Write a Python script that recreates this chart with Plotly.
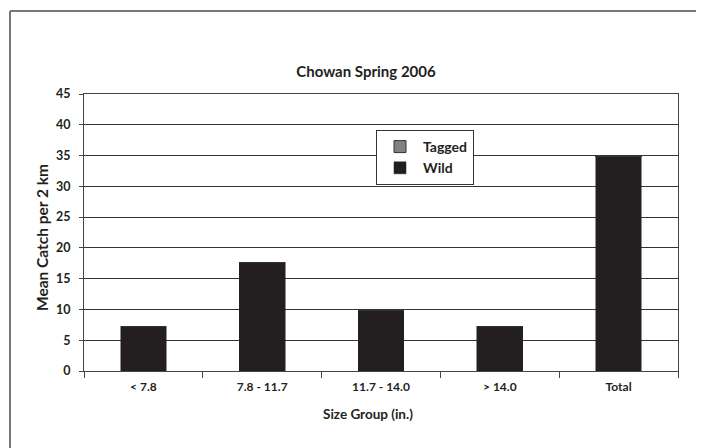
import plotly.graph_objects as go

categories = ["< 7.8", "7.8 - 11.7", "11.7 - 14.0", "> 14.0", "Total"]
wild = [7.3, 17.7, 9.8, 7.3, 34.8]
tagged = [0, 0, 0.15, 0, 0.15]
y_ticks = [0, 5, 10, 15, 20, 25, 30, 35, 40, 45]

OFF = 8  # page body margin
W, H = 704 - OFF, 448 - OFF
L, R, T = 84 - OFF, 26, 94 - OFF
pw, ph = 678 - 84, 371 - 94
B = H - T - ph

FONT = "Lato"

fig = go.Figure()
fig.add_trace(go.Bar(name="Wild", x=categories, y=wild,
                     marker=dict(color="#231f20", line=dict(color="#231f20", width=0.5))))
fig.add_trace(go.Bar(name="Tagged", x=categories, y=tagged,
                     marker=dict(color="#808285", line=dict(color="#333333", width=1))))

fig.update_layout(
    width=W, height=H,
    margin=dict(l=L, r=R, t=T, b=B),
    paper_bgcolor="white", plot_bgcolor="white",
    barmode="stack", bargap=0.615,
    font=dict(family=FONT, color="#231f20", size=12),
    showlegend=True,
    legend=dict(x=(376 - 84) / pw, y=1 - (130 - 94) / ph, xanchor="left", yanchor="top",
                bgcolor="white", bordercolor="#333333", borderwidth=1,
                traceorder="reversed", itemwidth=36,
                font=dict(family=FONT, size=14, color="#231f20", weight="bold")),
    title=dict(text="<b>Chowan Spring 2006</b>", x=(366 - 84) / pw, xref="paper", xanchor="center",
               y=1 - (72 - OFF) / H, yref="container", yanchor="middle",
               font=dict(family=FONT, size=15, color="#231f20")),
    xaxis=dict(showline=True, linecolor="#444444", linewidth=1.2, mirror=True,
               ticks="outside", tickson="boundaries", ticklen=6, tickcolor="#444444",
               showgrid=False, ticklabelstandoff=4,
               tickfont=dict(family=FONT, size=12, weight="bold")),
    yaxis=dict(range=[0, 45], tickvals=y_ticks, showline=True, linecolor="#444444", linewidth=1.2,
               mirror=True, ticks="outside", ticklen=4, tickcolor="#444444",
               showgrid=True, gridcolor="#333333", gridwidth=1, ticklabelstandoff=6,
               tickfont=dict(family=FONT, size=12.5, weight="bold")),
)

fig.add_annotation(text="<b>Size Group (in.)</b>", xref="paper", yref="paper",
                   x=(368 - 84) / pw, y=-(414 - 371) / ph, showarrow=False,
                   xanchor="center", yanchor="middle",
                   font=dict(family=FONT, size=13.5, color="#231f20"))
fig.add_annotation(text="<b>Mean Catch per 2 km</b>", xref="paper", yref="paper",
                   x=-(84 - 42) / pw, y=1 - (238 - 94) / ph, showarrow=False, textangle=-90,
                   xanchor="center", yanchor="middle",
                   font=dict(family=FONT, size=15.5, color="#231f20"))

# outer frame (left and top edges)
fx = (10 - 84) / pw
fy = 1 + (94 - 11) / ph
fig.add_shape(type="line", xref="paper", yref="paper", x0=fx, x1=fx, y0=fy, y1=-(460 - 371) / ph,
              line=dict(color="#777777", width=2))
fig.add_shape(type="line", xref="paper", yref="paper", x0=fx, x1=(720 - 84) / pw, y0=fy, y1=fy,
              line=dict(color="#777777", width=2))

fig.write_html("out.html")
